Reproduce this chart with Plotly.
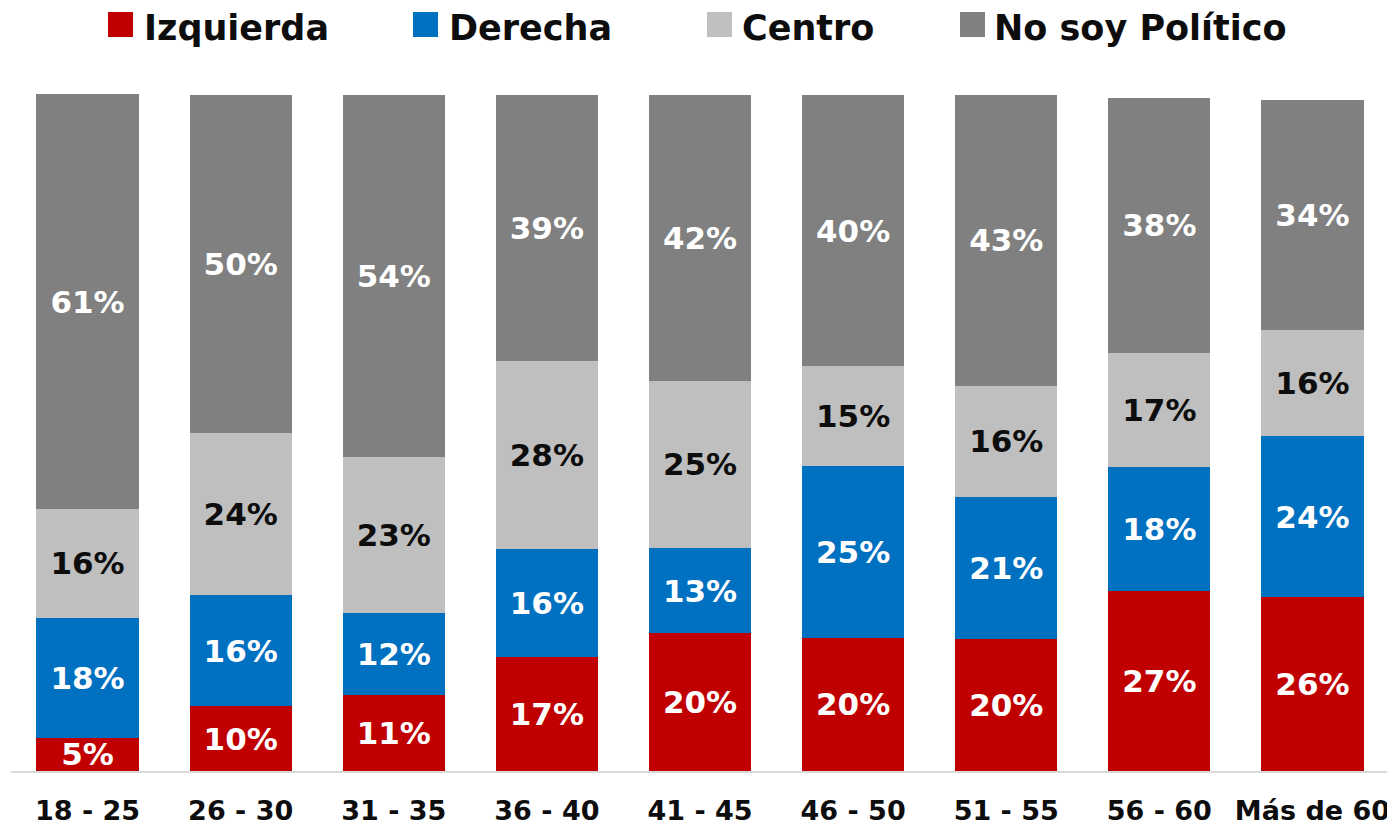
import plotly.graph_objects as go

categories = ["18 - 25", "26 - 30", "31 - 35", "36 - 40", "41 - 45",
              "46 - 50", "51 - 55", "56 - 60", "Más de 60"]
izquierda = [4.9, 9.6, 11.2, 16.9, 20.4, 19.7, 19.6, 26.6, 25.7]
derecha = [17.8, 16.4, 12.1, 16.0, 12.6, 25.4, 21.0, 18.3, 23.8]
centro = [16.0, 24.0, 23.1, 27.8, 24.7, 14.8, 16.4, 17.0, 15.8]
no_politico = [61.4, 50.0, 53.6, 39.3, 42.3, 40.1, 43.0, 37.6, 34.0]

series_names = ["Izquierda", "Derecha", "Centro", "No soy Político"]
series_values = [izquierda, derecha, centro, no_politico]
colors = ["#C00000", "#0070C0", "#BFBFBF", "#808080"]
text_colors = ["white", "white", "#0d0d0d", "white"]

FONT = "Century Gothic, DejaVu Sans, sans-serif"

fig = go.Figure()
for name, vals, col, tcol in zip(series_names, series_values, colors, text_colors):
    fig.add_trace(go.Bar(
        x=categories, y=vals, name=name,
        marker=dict(color=col, line=dict(width=0)),
        texttemplate="%{y:.0f}%", textposition="inside",
        insidetextanchor="middle", textangle=0,
        insidetextfont=dict(color=tcol, size=31, family=FONT, weight="bold"),
        showlegend=False, hoverinfo="skip",
    ))

# page body adds an 8px offset; figure is sized to fit the window
OFF = 8
W, H = 1395 - OFF, 828 - OFF
ml, mr, mt, mb = 11 - OFF, 6, 80 - OFF, 57
pw, ph = W - ml - mr, H - mt - mb

def px_x(p):
    return (p - OFF - ml) / pw

def px_y(p):
    return (H - mb - (p - OFF)) / ph

legend_sq = [108, 413, 707, 960]
legend_txt = [143, 448, 741, 993]
shapes = []
annotations = []
for name, col, sx, tx in zip(series_names, colors, legend_sq, legend_txt):
    shapes.append(dict(type="rect", xref="paper", yref="paper",
                       x0=px_x(sx), x1=px_x(sx + 25), y0=px_y(37), y1=px_y(12),
                       fillcolor=col, line=dict(width=0)))
    annotations.append(dict(text=name, xref="paper", yref="paper",
                            x=px_x(tx), y=px_y(28), xanchor="left", yanchor="middle",
                            showarrow=False, borderpad=0,
                            font=dict(size=35, color="#0d0d0d", family=FONT, weight="bold")))

fig.update_layout(
    width=W, height=H, barmode="stack", bargap=0.333,
    margin=dict(l=ml, r=mr, t=mt, b=mb, autoexpand=False),
    plot_bgcolor="white", paper_bgcolor="white",
    uniformtext=dict(minsize=31, mode="show"),
    shapes=shapes, annotations=annotations,
    xaxis=dict(showline=True, linecolor="#d9d9d9", linewidth=2, ticks="",
               automargin=False,
               tickfont=dict(size=27, color="#0d0d0d", family=FONT, weight="bold"),
               ticklabelstandoff=15),
    yaxis=dict(range=[0, ph / 6.76], visible=False, showgrid=False),
)

fig.write_html("out.html")
